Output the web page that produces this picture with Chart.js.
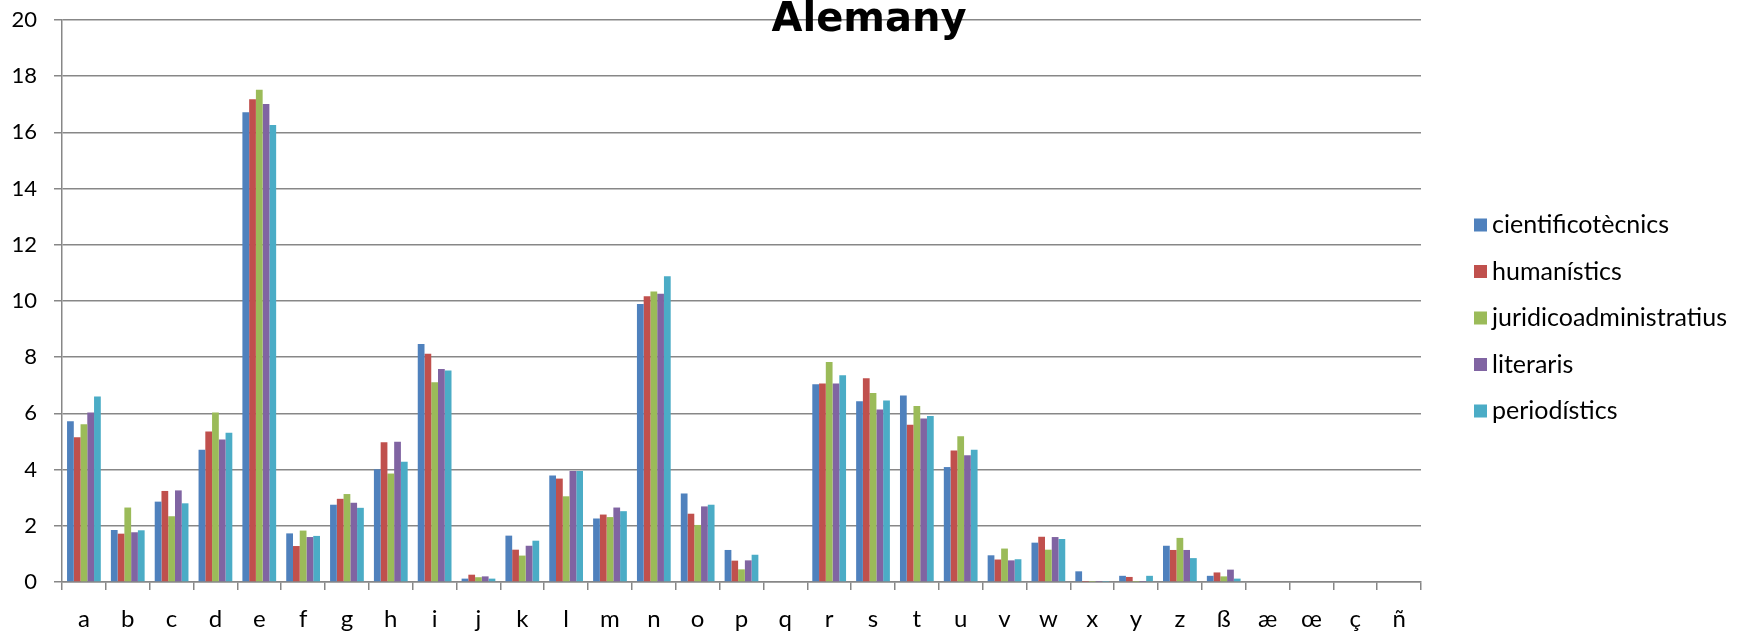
<!DOCTYPE html>
<html>
<head>
<meta charset="utf-8">
<title>Alemany</title>
<script src="https://cdn.jsdelivr.net/npm/chart.js@4.4.1/dist/chart.umd.min.js"></script>
<style>
  html, body { margin: 0; padding: 0; background: #ffffff; }
  #wrap { position: relative; width: 1746px; height: 632px; }
</style>
</head>
<body>
<div id="wrap"><canvas id="chart" width="1746" height="632"></canvas></div>
<script>
// Letter frequencies (%) in German texts, by text type
const chartTitle = 'Alemany';
const letters = ['a','b','c','d','e','f','g','h','i','j','k','l','m','n','o','p','q','r','s','t','u','v','w','x','y','z','ß','æ','œ','ç','ñ'];
const seriesNames = ['cientificotècnics','humanístics','juridicoadministratius','literaris','periodístics'];
const seriesColors = ['#4F81BD','#C0504D','#9BBB59','#8064A2','#4BACC6'];
const yTicks = { min: 0, max: 20, step: 2 };

const cientificotecnics = [5.72,1.85,2.86,4.71,16.72,1.73,2.75,4.01,8.47,0.12,1.65,3.79,2.26,9.89,3.15,1.14,0,7.04,6.43,6.64,4.09,0.95,1.40,0.38,0.22,1.29,0.22,0,0,0,0];
const humanistics       = [5.15,1.72,3.24,5.36,17.18,1.28,2.96,4.97,8.12,0.26,1.15,3.68,2.40,10.17,2.43,0.76,0,7.06,7.25,5.60,4.68,0.80,1.61,0.01,0.18,1.14,0.34,0,0,0,0];
const juridicoadministratius = [5.61,2.65,2.34,6.03,17.52,1.83,3.13,3.86,7.11,0.17,0.94,3.05,2.31,10.34,2.03,0.45,0,7.83,6.73,6.26,5.19,1.19,1.15,0.01,0.01,1.57,0.20,0,0,0,0];
const literaris         = [6.03,1.77,3.26,5.07,17.01,1.60,2.82,4.99,7.58,0.20,1.29,3.95,2.65,10.26,2.69,0.77,0,7.06,6.14,5.82,4.51,0.77,1.60,0.01,0.01,1.14,0.44,0,0,0,0];
const periodistics      = [6.60,1.84,2.80,5.31,16.26,1.64,2.64,4.28,7.53,0.12,1.47,3.95,2.52,10.88,2.75,0.97,0,7.36,6.46,5.91,4.71,0.81,1.53,0.01,0.22,0.85,0.12,0,0,0,0];

const seriesValues = [cientificotecnics, humanistics, juridicoadministratius, literaris, periodistics];

const FONT = 'Lato, "Open Sans", sans-serif';
const GRID = '#878787';

// Title sits over the top gridline, drawn after the plot
const titlePlugin = {
  id: 'topTitle',
  afterDraw(chart) {
    const ctx = chart.ctx;
    ctx.save();
    ctx.font = 'bold 40px "DejaVu Sans", sans-serif';
    ctx.fillStyle = '#000';
    ctx.textAlign = 'center';
    ctx.textBaseline = 'alphabetic';
    ctx.fillText(chartTitle, 869, 31);
    ctx.restore();
  }
};

// Legend to the right of the plot area
const sideLegend = {
  id: 'sideLegend',
  afterDraw(chart) {
    const ctx = chart.ctx;
    const x0 = chart.chartArea.right + 53;
    const yStart = 225, rowGap = 46.5, box = 13;
    ctx.save();
    ctx.font = '25px ' + FONT;
    ctx.textAlign = 'left';
    ctx.textBaseline = 'middle';
    chart.data.datasets.forEach((ds, i) => {
      const y = yStart + i * rowGap;
      ctx.fillStyle = ds.backgroundColor;
      ctx.fillRect(x0, y - box / 2, box, box);
      ctx.fillStyle = '#000';
      ctx.fillText(ds.label, x0 + box + 5, y);
    });
    ctx.restore();
  }
};

new Chart(document.getElementById('chart'), {
  type: 'bar',
  data: {
    labels: letters,
    datasets: seriesNames.map((name, i) => ({
      label: name,
      data: seriesValues[i],
      backgroundColor: seriesColors[i],
      borderWidth: 0,
      categoryPercentage: 0.77,
      barPercentage: 1.0
    }))
  },
  options: {
    responsive: false,
    animation: false,
    layout: { padding: { top: 20, right: 325, left: 0, bottom: 0 } },
    plugins: {
      legend: { display: false },
      title: { display: false },
      tooltip: { enabled: false }
    },
    scales: {
      x: {
        afterFit(scale) {
          scale.height = 50;
          scale.paddingLeft = 0;
          scale.paddingRight = 0;
        },
        grid: {
          offset: true,
          drawOnChartArea: false,
          drawTicks: true,
          tickLength: 8,
          color: GRID,
          lineWidth: 1.5
        },
        border: { display: true, color: GRID, width: 1.5 },
        ticks: {
          color: '#000',
          font: { family: FONT, size: 24 },
          padding: 15,
          maxRotation: 0,
          autoSkip: false
        }
      },
      y: {
        min: yTicks.min,
        max: yTicks.max,
        afterFit(scale) {
          scale.width = 62;
          scale.paddingTop = 0;
          scale.paddingBottom = 0;
        },
        grid: {
          drawOnChartArea: true,
          drawTicks: true,
          tickLength: 8,
          color: GRID,
          lineWidth: 1.5
        },
        border: { display: true, color: GRID, width: 1.5 },
        ticks: {
          stepSize: yTicks.step,
          color: '#000',
          font: { family: FONT, size: 22 },
          padding: 17
        }
      }
    }
  },
  plugins: [titlePlugin, sideLegend]
});
</script>
</body>
</html>
